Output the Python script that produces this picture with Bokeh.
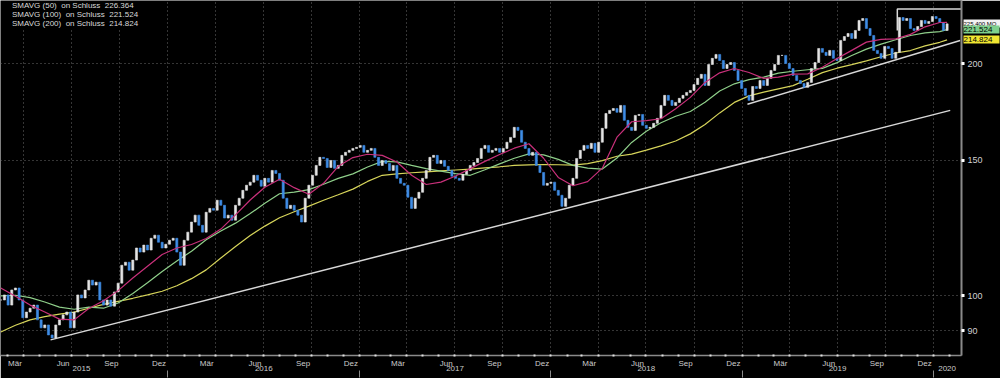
import numpy as np
import pandas as pd
from bokeh.plotting import figure
from bokeh.models import (Range1d, LinearAxis, LogAxis, FixedTicker, Grid, Legend,
                          LegendItem, ColumnDataSource, CustomJSTickFormatter)
from bokeh.embed import file_html
from bokeh.resources import INLINE

# ---------------- data ----------------
first_week = "2015-02-16"   # weekly bars, Mondays
close = [
    98.7, 100.2, 97.2, 101.7, 102.3, 98.7, 93.6, 95.2, 96.3, 97.2,
    93.0, 90.8, 91.6, 88.9, 88.1, 91.6, 93.0, 94.4, 95.2, 90.8,
    95.2, 100.2, 99.3, 101.7, 104.7, 103.2, 104.1, 98.7, 97.2, 98.7,
    96.9, 101.1, 103.8, 109.5, 110.5, 107.9, 111.2, 115.3, 113.9, 116.3,
    114.6, 118.7, 119.8, 117.3, 115.3, 116.6, 118.0, 118.7, 113.9, 109.5,
    118.0, 120.9, 124.6, 127.2, 123.4,
    120.9, 128.3, 129.8, 129.1, 133.0, 131.0, 126.1, 127.2, 125.3, 131.0,
    133.8, 137.0, 139.1, 140.4, 143.3, 141.2, 138.7, 142.0, 140.4, 145.4,
    144.1, 141.2, 133.8, 129.8, 131.0, 129.1, 127.2, 124.6, 133.8, 139.1,
    143.3, 147.6, 151.2, 150.7, 146.7, 149.8, 146.3, 147.6, 152.1, 153.5,
    154.4, 155.3, 155.8, 156.7, 153.5, 154.4, 155.3, 151.2, 147.6, 149.8,
    148.5, 145.4,
    147.6, 142.0, 139.9, 139.1, 134.2, 129.8, 133.8, 136.2, 142.0, 145.4,
    151.2, 152.1, 148.5, 149.8, 147.2, 145.4, 142.9, 142.0, 141.2, 143.7,
    145.4, 147.6, 148.9, 150.7, 155.3, 156.7, 153.5, 154.4, 155.3, 153.5,
    155.3, 158.2, 160.5, 165.4, 163.9, 158.2, 155.3, 152.1, 153.5, 147.6,
    144.5, 139.1, 139.9, 140.4, 137.0, 135.0, 130.6, 133.8, 139.1, 142.0,
    150.7, 154.4,
    156.7, 155.3, 157.7, 153.5, 158.2, 164.9, 172.4, 174.0, 175.0, 173.0,
    176.6, 168.9, 165.4, 163.9, 171.4, 171.9, 166.4, 164.9, 165.4, 167.4,
    169.9, 176.6, 182.0, 179.3, 176.6, 178.2, 180.4, 182.0, 183.6, 184.7,
    188.0, 191.5, 193.8, 187.5, 199.6, 203.3, 205.7, 202.0, 197.2, 199.6,
    200.8, 196.1, 190.3, 185.8, 182.0, 179.3, 186.9, 185.8, 190.3, 187.5,
    191.5,
    196.1, 199.6, 205.1, 205.1, 200.2, 197.2, 193.2, 190.3, 188.6, 186.4,
    189.2, 197.2, 200.8, 209.4, 207.0, 205.1, 208.2, 203.3, 202.0, 214.5,
    217.0, 219.0, 215.8, 221.0, 227.7, 229.0, 222.3, 217.7, 208.2, 206.3,
    203.3, 210.7, 209.4, 203.3, 207.0, 229.7, 227.7, 229.0, 222.3, 221.0,
    223.6, 227.7, 225.7, 227.0, 230.4, 229.0, 226.3, 221.0, 225.4,
]

sma_step = "28D"
sma_last_date = "2020-01-27"
sma50 = [
    102.3, 99.8, 97.2, 95.2, 93.2, 93.0, 96.2, 98.5, 101.5, 105.4,
    109.2, 113.1, 115.3, 116.5, 118.6, 122.0, 127.3, 133.1, 138.3, 141.6,
    138.1, 135.4, 139.9, 147.2, 151.1, 152.6, 152.1, 149.1, 143.3, 139.4,
    140.4, 143.0, 146.2, 149.4, 152.5, 155.4, 157.5, 150.8, 142.4, 138.9,
    140.6, 146.4, 160.6, 168.2, 168.8, 169.7, 174.9, 180.9, 189.2, 194.7,
    197.2, 194.9, 191.5, 192.2, 193.9, 194.1, 198.0, 203.2, 208.2, 213.4,
    215.2, 215.5, 218.4, 223.4, 226.3, 226.364,
]
sma100 = [
    99.9, 100.1, 99.4, 98.1, 96.6, 96.0, 96.6, 96.3, 97.8, 100.6,
    103.9, 107.5, 110.9, 114.2, 118.2, 121.3, 124.2, 127.8, 131.8, 135.6,
    136.3, 137.3, 139.5, 142.0, 143.9, 146.9, 149.4, 149.2, 147.6, 146.2,
    145.1, 144.0, 143.3, 145.7, 148.3, 150.8, 152.8, 152.3, 150.3, 147.6,
    146.4, 146.0, 150.9, 158.1, 163.5, 167.7, 171.0, 173.4, 178.3, 184.4,
    188.4, 190.8, 192.2, 194.5, 195.6, 196.5, 197.3, 200.7, 205.0, 209.0,
    212.1, 214.9, 217.7, 219.4, 220.2, 221.524,
]
sma200 = [
    89.7, 91.5, 93.0, 93.9, 94.6, 95.2, 96.3, 97.4, 98.3, 99.2,
    100.2, 101.3, 103.0, 105.2, 108.0, 111.9, 115.8, 119.7, 123.1, 126.2,
    128.5, 130.7, 133.0, 135.2, 137.5, 140.7, 143.3, 143.9, 144.4, 144.8,
    145.2, 145.6, 146.0, 146.5, 147.0, 147.6, 147.8, 148.0, 147.9, 147.7,
    148.4, 149.7, 151.7, 152.7, 154.5, 156.5, 158.8, 162.2, 166.8, 172.7,
    178.2, 181.7, 183.8, 185.6, 187.4, 191.0, 194.8, 197.4, 199.5, 201.8,
    204.3, 206.6, 208.1, 211.0, 213.3, 214.824,
]
legend_labels = [
    "SMAVG (50)  on Schluss  226.364",
    "SMAVG (100)  on Schluss  221.524",
    "SMAVG (200)  on Schluss  214.824",
]
# right-edge value tags
tag_values = [225.400, 221.524, 214.824]
tag_texts = ["225.400 MO", "221.524", "214.824"]
tag_colors = ["#f2f2f2", "#7ed08c", "#f0e632"]

trend1_dates = ["2015-05-22", "2020-02-02"]
trend1_vals = [87.6, 174.0]
trend2_dates = ["2019-01-11", "2020-02-21"]
trend2_vals = [177.2, 214.5]
box_dates = ["2019-10-24", "2019-10-24", "2020-02-23"]
box_vals = [221.0, 235.7, 235.7]

y_ticks = [90, 100, 150, 200]
month_names = ["Jan", "Feb", "Mär", "Apr", "Mai", "Jun", "Jul", "Aug", "Sep", "Okt", "Nov", "Dez"]
label_months = [3, 6, 9, 12]
years = [2015, 2016, 2017, 2018, 2019, 2020]
year_label_dates = ["2015-07-20", "2016-07-02", "2017-07-02", "2018-07-02", "2019-07-02", "2020-01-27"]

# ---------------- helpers ----------------
def ms(d):
    return pd.Timestamp(d).value / 1e6

week_dates = pd.date_range(first_week, periods=len(close), freq="7D")
wx = np.array([ms(d) for d in week_dates])
c = np.array(close)
o = np.concatenate([[c[0]], c[:-1]])
up = c >= o
UP, DOWN = "#e4e4e4", "#3f8de6"
candles = ColumnDataSource(dict(
    x=wx, top=np.maximum(o, c), bottom=np.minimum(o, c),
    color=[UP if u else DOWN for u in up]))

sma_dates = list(pd.date_range(first_week, periods=len(sma50) - 1, freq=sma_step)) + [pd.Timestamp(sma_last_date)]
sx = [ms(d) for d in sma_dates]

BG = "black"
p = figure(width=1000, height=378, y_axis_type="log", y_axis_location="right",
           x_axis_type=None, output_backend="svg", toolbar_location=None,
           x_range=Range1d(ms("2015-02-15 12:00"), ms("2020-02-23 12:00")),
           y_range=Range1d(83.6, 241.7),
           min_border_left=0, min_border_top=0, min_border_right=39, min_border_bottom=23)
p.background_fill_color = BG
p.border_fill_color = BG
p.outline_line_color = None

# right (price) axis
ya = p.yaxis[0]
ya.ticker = FixedTicker(ticks=y_ticks, minor_ticks=[])
ya.formatter = CustomJSTickFormatter(code="return tick.toFixed(0);")
ya.axis_line_color = "#8a8a8a"
ya.axis_line_width = 2
ya.major_tick_line_color = "white"
ya.major_tick_line_width = 3
ya.major_tick_out = 3
ya.major_tick_in = 0
ya.minor_tick_line_color = None
ya.minor_tick_out = 0
ya.minor_tick_in = 0
ya.major_label_standoff = 3
ya.major_label_text_color = "#d0d0d0"
ya.major_label_text_font = "Liberation Sans"
ya.major_label_text_font_size = "9px"

p.ygrid.ticker = FixedTicker(ticks=y_ticks, minor_ticks=[])
p.ygrid.grid_line_color = "#6a6a6a"
p.ygrid.grid_line_dash = "1 3"

quarter_starts = [ms(f"{y}-{m:02d}-01") for y in range(2015, 2021) for m in (1, 4, 7, 10)]
p.add_layout(Grid(dimension=0, ticker=FixedTicker(ticks=quarter_starts),
                  grid_line_color="#6a6a6a", grid_line_dash="1 3"))

# value tags: one small axis each; a thick tick forms the coloured box behind the text,
# a negative standoff pulls the text back beside the price axis (x ~ 963 px)
tag_sizes = ["6px", "8px", "8px"]
tag_tick_in = [22, 36, 36]
tag_tick_out = [15, 0, 0]
tag_standoff = [-37, -36, -36]
for val, txt, col, fs, tin, tout, so in zip(tag_values, tag_texts, tag_colors, tag_sizes,
                                            tag_tick_in, tag_tick_out, tag_standoff):
    ax = LogAxis(ticker=FixedTicker(ticks=[val], minor_ticks=[]),
                 formatter=CustomJSTickFormatter(args=dict(t=txt), code="return t;"))
    ax.axis_line_color = None
    ax.major_tick_line_color = col
    ax.major_tick_line_width = 8
    ax.major_tick_line_cap = "butt"
    ax.major_tick_in = tin
    ax.major_tick_out = tout
    ax.minor_tick_line_color = None
    ax.minor_tick_out = 0
    ax.minor_tick_in = 0
    ax.major_label_standoff = so
    ax.major_label_text_font = "Liberation Sans"
    ax.major_label_text_font_size = fs
    ax.major_label_text_color = "black"
    p.add_layout(ax, "right")

# bottom axes: months and years
month_label_ticks = [ms(f"{y}-{m:02d}-15") for y in range(2015, 2020) for m in label_months]
month_starts = [ms(d) for d in pd.date_range("2015-03-01", "2020-02-01", freq="MS")]
fmt_month = CustomJSTickFormatter(
    args=dict(names=month_names),
    code="return names[new Date(tick).getUTCMonth()];")
ax_m = LinearAxis(ticker=FixedTicker(ticks=month_label_ticks, minor_ticks=month_starts),
                  formatter=fmt_month)
ax_m.axis_line_color = "#8a8a8a"
ax_m.axis_line_width = 1.5
ax_m.major_tick_line_color = None
ax_m.major_tick_out = 0
ax_m.major_tick_in = 0
ax_m.minor_tick_line_color = "#e0e0e0"
ax_m.minor_tick_line_width = 2
ax_m.minor_tick_in = 1
ax_m.minor_tick_out = 1
ax_m.major_label_standoff = 2
ax_m.major_label_text_color = "#cccccc"
ax_m.major_label_text_font = "Liberation Sans"
ax_m.major_label_text_font_size = "8px"
p.add_layout(ax_m, "below")

year_starts = [ms(f"{y}-01-01") for y in years[1:]]
ax_y = LinearAxis(ticker=FixedTicker(ticks=[ms(d) for d in year_label_dates], minor_ticks=year_starts),
                  formatter=CustomJSTickFormatter(code="return String(new Date(tick).getUTCFullYear());"))
ax_y.axis_line_color = None
ax_y.major_tick_line_color = None
ax_y.major_tick_out = 0
ax_y.major_tick_in = 0
ax_y.minor_tick_line_color = "#8a8a8a"
ax_y.minor_tick_line_width = 1
ax_y.minor_tick_in = 0
ax_y.minor_tick_out = 7
ax_y.major_label_standoff = -12
ax_y.major_label_text_color = "#cccccc"
ax_y.major_label_text_font = "Liberation Sans"
ax_y.major_label_text_font_size = "8px"
p.add_layout(ax_y, "below")

# trend lines and range box
LINE = "#d8d8d8"
p.line([ms(d) for d in trend1_dates], trend1_vals, line_color=LINE, line_width=1.5)
p.line([ms(d) for d in trend2_dates], trend2_vals, line_color=LINE, line_width=1.5)
p.line([ms(d) for d in box_dates], box_vals, line_color=LINE, line_width=1.5)

# moving averages
COL50, COL100, COL200 = "#c8307a", "#8fcf8a", "#d6d45a"
p.line(sx, sma200, line_color=COL200, line_width=1.2)
p.line(sx, sma100, line_color=COL100, line_width=1.2)

# candles
day = 86400000.0
p.vbar(x="x", top="top", bottom="bottom", width=4.0 * day, source=candles,
       fill_color="color", line_color="color", line_width=0.6)

p.line(sx, sma50, line_color=COL50, line_width=1.2)

# legend (colour squares)
sq_cols = ["#e61e96", "#7ee08a", "#f2e530"]
sq = [p.quad(left=[], right=[], top=[], bottom=[], fill_color=col, line_color=col) for col in sq_cols]
legend = Legend(items=[LegendItem(label=t, renderers=[r]) for t, r in zip(legend_labels, sq)],
                location="top_left")
legend.label_text_color = "#d8d8d8"
legend.label_text_font = "Liberation Sans"
legend.label_text_font_size = "8px"
legend.glyph_width = 8
legend.glyph_height = 8
legend.label_height = 8
legend.label_standoff = 3
legend.spacing = 0
legend.padding = 1
legend.margin = 1
legend.background_fill_color = BG
legend.background_fill_alpha = 1
legend.border_line_color = None
p.add_layout(legend)

open("out.html", "w").write(file_html(p, INLINE))
